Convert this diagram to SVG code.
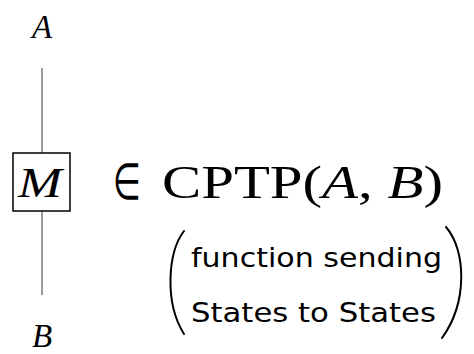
<svg xmlns="http://www.w3.org/2000/svg" width="474" height="354" viewBox="0 0 474 354">
<style>
.math{font-family:"Liberation Serif",serif;fill:#000}
.it{font-style:italic}
.wire{stroke:#666;stroke-width:1.3;fill:none}
.hand{font-family:"DejaVu Sans","Noto Sans",sans-serif;font-size:27px;fill:#000}
.paren{stroke:#000;stroke-width:2;fill:none;stroke-linecap:round}
</style>
<rect width="474" height="354" fill="#fff"/>
<g id="connectors">
<line class="wire" x1="42" y1="68" x2="42" y2="153"/>
<line class="wire" x1="42" y1="211" x2="42" y2="295"/>
</g>
<g id="nodeA"><text class="math it" x="42" y="38" font-size="33" text-anchor="middle">A</text></g>
<g id="nodeM">
<rect x="13" y="153" width="57" height="58" fill="#fff" stroke="#000" stroke-width="1.5"/>
<text class="math it" x="40" y="197" font-size="42" text-anchor="middle" textLength="44" lengthAdjust="spacingAndGlyphs">M</text>
</g>
<g id="nodeB"><text class="math it" x="42" y="347" font-size="33" text-anchor="middle">B</text></g>
<g id="label">
<text x="113" y="199" font-family="DejaVu Sans, sans-serif" font-size="50" textLength="28" lengthAdjust="spacingAndGlyphs">∈</text>
<text class="math" x="162" y="198" font-size="46" textLength="281" lengthAdjust="spacingAndGlyphs">CPTP(<tspan class="it">A</tspan>, <tspan class="it">B</tspan>)</text>
</g>
<g id="note">
<path class="paren" d="M184,231 C168,252 164,302 184,334"/>
<path class="paren" d="M446,227 C466,250 468,302 442,338"/>
<text class="hand" x="191" y="267" textLength="251" lengthAdjust="spacingAndGlyphs">function sending</text>
<text class="hand" x="191" y="322" textLength="245" lengthAdjust="spacingAndGlyphs">States  to  States</text>
</g>
</svg>
